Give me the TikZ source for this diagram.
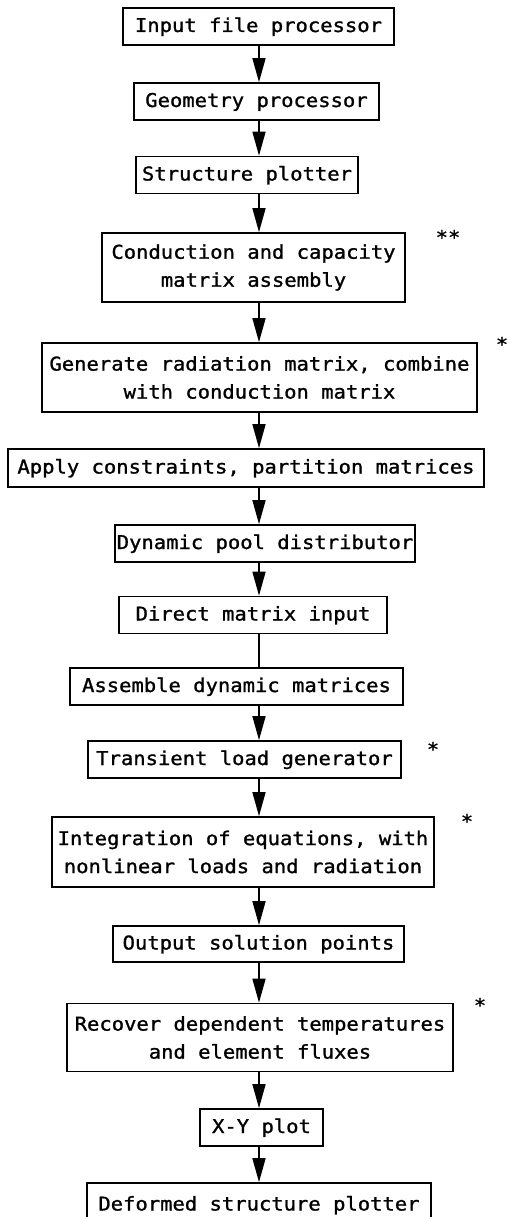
\documentclass[tikz,border=0pt]{standalone}
\usepackage{fontspec}
\usetikzlibrary{arrows.meta,calc}
\newfontfamily\monofnt{DejaVu Sans Mono}[FakeStretch=1.08,FakeBold=1.2]
\newcommand{\boxfont}{\monofnt\fontsize{19}{28}\selectfont}
\begin{document}
\begin{tikzpicture}[x=1pt,y=-1pt,
  stepbox/.style={draw, line width=1.7pt, inner sep=0pt, align=center, font=\boxfont},
  one/.style={text height=14pt, text depth=3pt},
  arr/.style={line width=1.6pt, -{Triangle[length=24pt,width=13pt]}},
  plain/.style={line width=1.6pt},
  starmark/.style={font=\boxfont, inner sep=0pt, anchor=base}]
\useasboundingbox (0,0) rectangle (507,1217);
\coordinate (sp) at (259,0);
\node[stepbox,one,minimum width=271,minimum height=37] (n1) at (258.5,26.5) {Input file processor};
\node[stepbox,one,minimum width=245,minimum height=37] (n2) at (256.5,101.5) {Geometry processor};
\node[stepbox,one,minimum width=222,minimum height=37] (n3) at (247,175) {Structure plotter};
\node[stepbox,minimum width=303,minimum height=69] (n4) at (253.5,267.5) {Conduction and capacity\\matrix assembly};
\node[stepbox,minimum width=435,minimum height=69] (n5) at (259.5,377.5) {Generate radiation matrix, combine\\with conduction matrix};
\node[stepbox,one,minimum width=476,minimum height=38] (n6) at (246,468) {Apply constraints, partition matrices};
\node[stepbox,one,minimum width=300,minimum height=37] (n7) at (265,543.5) {Dynamic pool distributor};
\node[stepbox,one,minimum width=268,minimum height=37] (n8) at (253,615) {Direct matrix input};
\node[stepbox,one,minimum width=333,minimum height=37] (n9) at (236.5,686.5) {Assemble dynamic matrices};
\node[stepbox,one,minimum width=313,minimum height=37] (n10) at (244.5,759.5) {Transient load generator};
\node[stepbox,minimum width=382,minimum height=70] (n11) at (243,852) {Integration of equations, with\\nonlinear loads and radiation};
\node[stepbox,one,minimum width=291,minimum height=36] (n12) at (258.5,944) {Output solution points};
\node[stepbox,minimum width=386,minimum height=68] (n13) at (260,1037.5) {Recover dependent temperatures\\and element fluxes};
\node[stepbox,one,minimum width=123,minimum height=37] (n14) at (261.5,1127.5) {X-Y plot};
\node[stepbox,one,minimum width=344,minimum height=44] (n15) at (259,1205) {Deformed structure plotter};
\draw[arr] (n1.south -| sp) -- (n2.north -| sp);
\draw[arr] (n2.south -| sp) -- (n3.north -| sp);
\draw[arr] (n3.south -| sp) -- (n4.north -| sp);
\draw[arr] (n4.south -| sp) -- (n5.north -| sp);
\draw[arr] (n5.south -| sp) -- (n6.north -| sp);
\draw[arr] (n6.south -| sp) -- (n7.north -| sp);
\draw[arr] (n7.south -| sp) -- (n8.north -| sp);
\draw[plain] (n8.south -| sp) -- (n9.north -| sp);
\draw[arr] (n9.south -| sp) -- (n10.north -| sp);
\draw[arr] (n10.south -| sp) -- (n11.north -| sp);
\draw[arr] (n11.south -| sp) -- (n12.north -| sp);
\draw[arr] (n12.south -| sp) -- (n13.north -| sp);
\draw[arr] (n13.south -| sp) -- (n14.north -| sp);
\draw[arr] (n14.south -| sp) -- (n15.north -| sp);
\node[starmark] (s1) at (448,244) {**};
\node[starmark] (s2) at (502,351) {*};
\node[starmark] (s3) at (433,756) {*};
\node[starmark] (s4) at (467,828) {*};
\node[starmark] (s5) at (480,1012) {*};
\end{tikzpicture}
\end{document}
